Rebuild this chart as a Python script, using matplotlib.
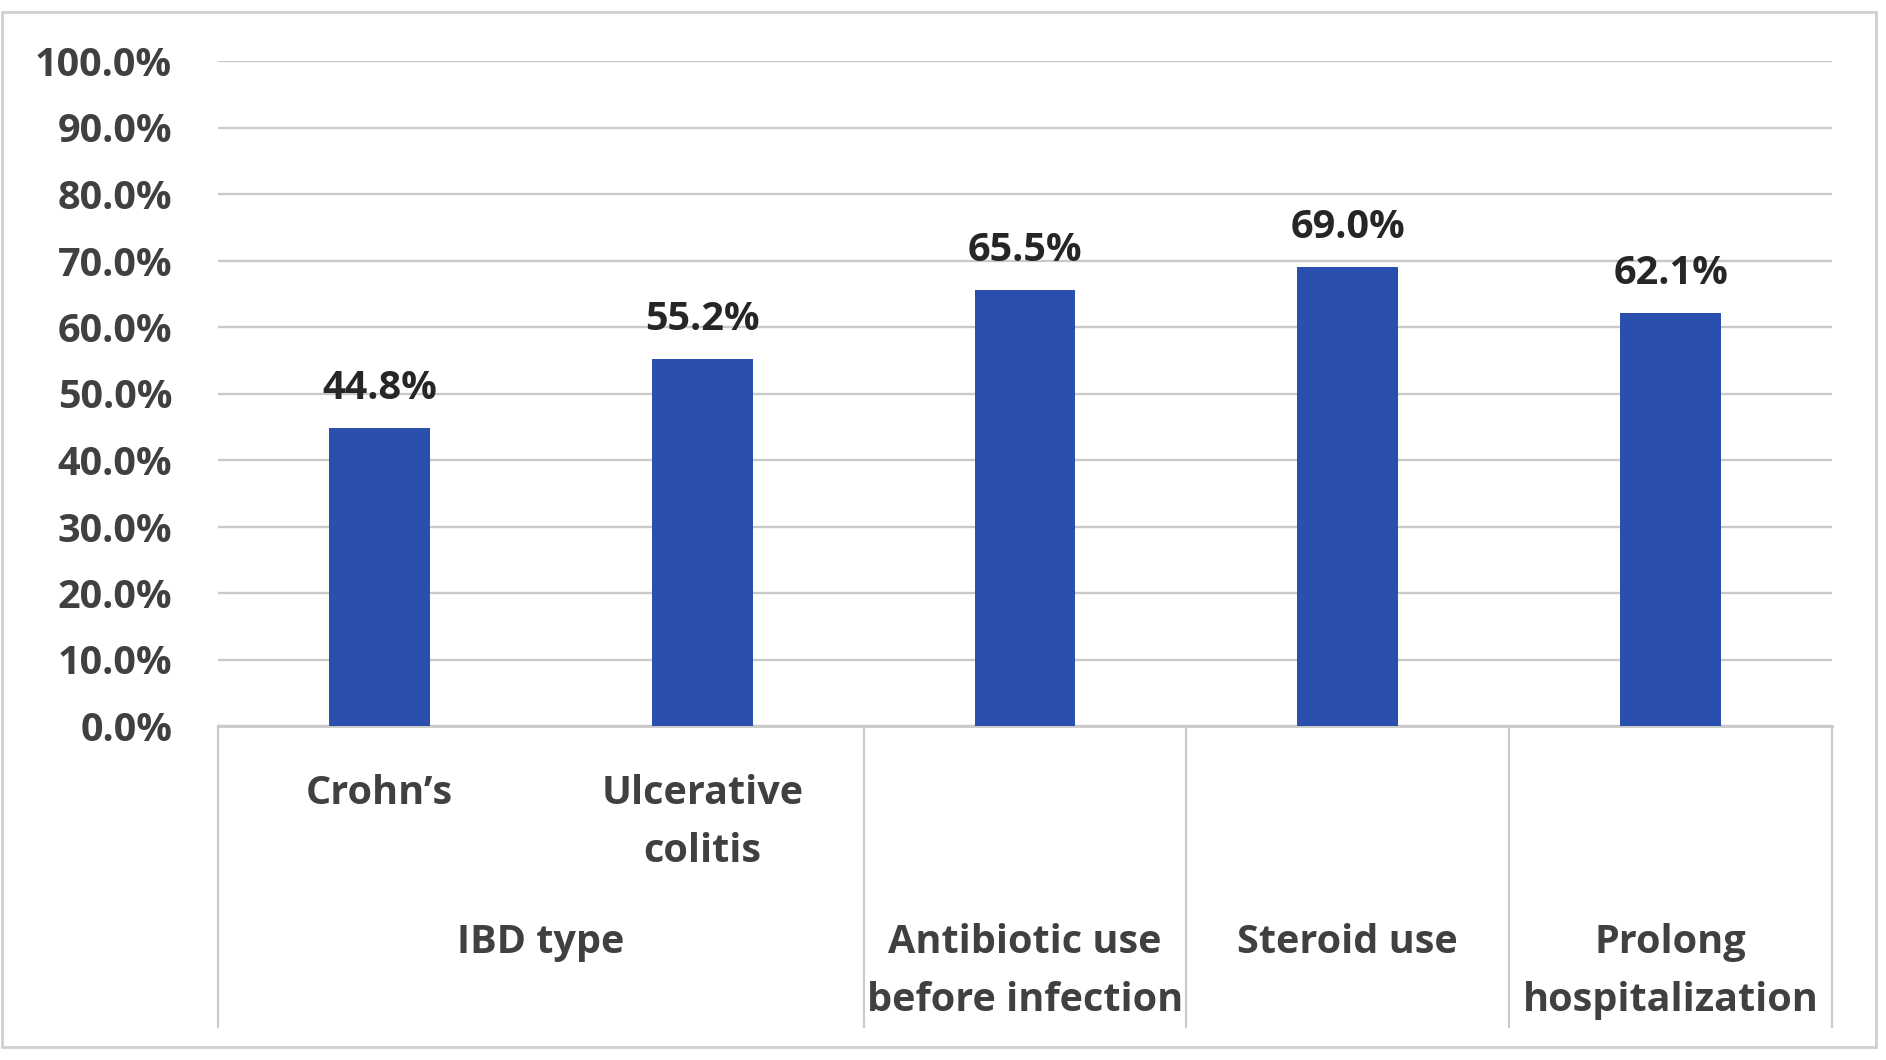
import matplotlib
matplotlib.use('Agg')
import matplotlib.pyplot as plt
from matplotlib.transforms import blended_transform_factory
from matplotlib.patches import Rectangle

# data
sub_labels = ['Crohn’s', 'Ulcerative\ncolitis', '', '', '']
group_labels = ['IBD type', 'Antibiotic use\nbefore infection', 'Steroid use', 'Prolong\nhospitalization']
group_sizes = [2, 1, 1, 1]
values = [44.8, 55.2, 65.5, 69.0, 62.1]
y_ticks = [0, 10, 20, 30, 40, 50, 60, 70, 80, 90, 100]

W, H = 1886, 1060
bar_color = '#2B4FAC'
grid_color = '#C9C9C9'
text_color = '#404040'
label_color = '#262626'
fsize = 28.5

plt.rcParams['font.family'] = ['Open Sans', 'DejaVu Sans']
plt.rcParams['font.weight'] = 'bold'

fig = plt.figure(figsize=(W / 100, H / 100), dpi=100)
ax = fig.add_axes([218 / W, 1 - 726 / H, (1832 - 218) / W, (726 - 61) / H])

x = list(range(len(values)))
ax.bar(x, values, width=0.312, color=bar_color, zorder=3)
ax.set_xlim(-0.5, len(values) - 0.5)
ax.set_ylim(0, 100)
ax.set_yticks(y_ticks)
ax.set_yticklabels([f'{t:.1f}%' for t in y_ticks], fontsize=fsize, color=text_color, fontweight='bold')
ax.tick_params(axis='y', length=0, pad=33)
ax.set_xticks([])
ax.grid(axis='y', color=grid_color, linewidth=1.7, zorder=0)
for s in ['top', 'right', 'left']:
    ax.spines[s].set_visible(False)
ax.spines['bottom'].set_color(grid_color)
ax.spines['bottom'].set_linewidth(2)

# data labels
for xi, v in zip(x, values):
    ax.annotate(f'{v:.1f}%', (xi, v), xytext=(0, 21), textcoords='offset points',
                ha='center', va='baseline', fontsize=fsize, color=label_color, fontweight='bold')

trans = blended_transform_factory(ax.transData, fig.transFigure)


def fy(px):
    return 1 - px / H


# inner category row
for xi, lab in zip(x, sub_labels):
    for k, line in enumerate(lab.split('\n')):
        if line:
            ax.text(xi, fy(804 + 58 * k), line, transform=trans, ha='center', va='baseline',
                    fontsize=fsize, color=text_color, fontweight='bold')

# outer category row + separators
start = 0
bounds = [-0.5]
for lab, n in zip(group_labels, group_sizes):
    cx = start + (n - 1) / 2
    for k, line in enumerate(lab.split('\n')):
        ax.text(cx, fy(953 + 58 * k), line, transform=trans, ha='center', va='baseline',
                fontsize=fsize, color=text_color, fontweight='bold')
    start += n
    bounds.append(start - 0.5)

for b in bounds:
    ax.plot([b, b], [fy(726), fy(1027)], transform=trans, color=grid_color,
            linewidth=1.5, clip_on=False)

# outer chart border
fig.patches.append(Rectangle((2 / W, fy(1047)), (1876 - 2) / W, (1047 - 12) / H,
                             transform=fig.transFigure, fill=False,
                             edgecolor='#D0D0D0', linewidth=2))

fig.savefig('out.png', dpi=100)
